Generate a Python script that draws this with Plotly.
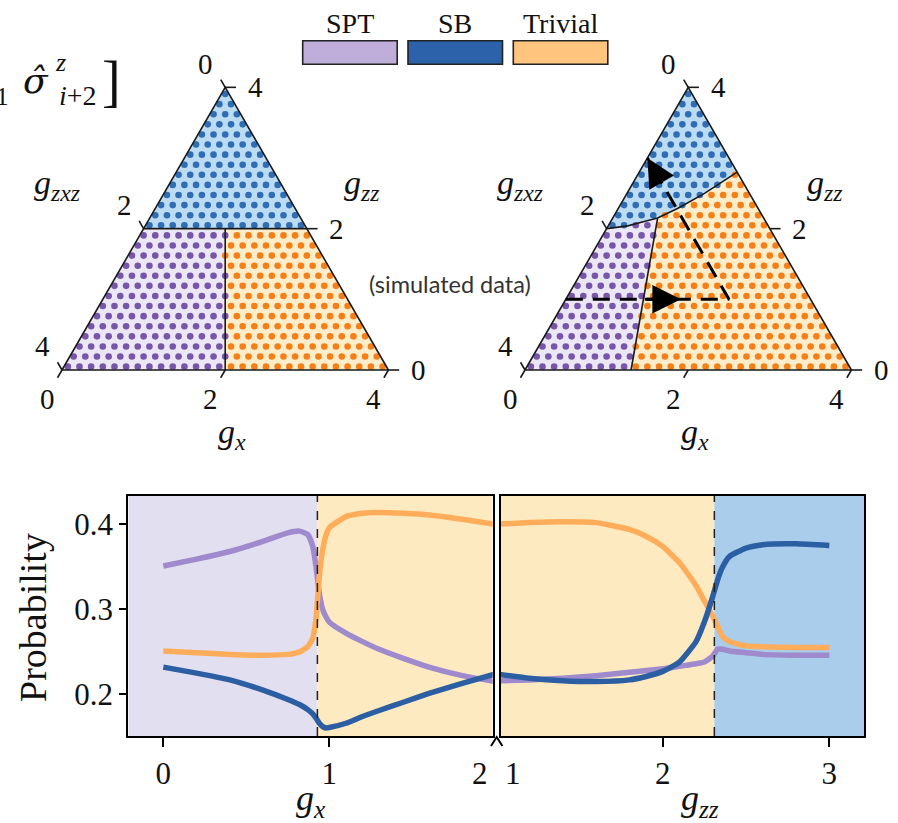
import numpy as np
import plotly.graph_objects as go

W, H = 898, 823
SQ3 = np.sqrt(3) / 2
SERIF = "Liberation Serif, Times New Roman, DejaVu Serif, serif"

# ---------------------------------------------------------------- colours
SPT_FILL, SB_FILL, TRIV_FILL = "#ece7f5", "#bcdcf4", "#feedcb"
SPT_DOT, SB_DOT, TRIV_DOT = "#7755a9", "#2f6db4", "#f47f16"
SPT_LINE, SB_LINE, TRIV_LINE = "#9e8acc", "#2c5ea3", "#ffad5a"
SPT_BG, SB_BG, TRIV_BG = "#e2dff0", "#a9cdeb", "#feeac1"

# ---------------------------------------------------------------- data
phase_names = ["SPT", "SB", "Trivial"]
phase_colors = ["#bfaed9", "#2b62a9", "#ffc57f"]

g_total = 4.0          # g_x + g_zxz + g_zz
n_grid = 28            # sampling lattice of the phase diagram
tri_ticks = [0, 2, 4]

# exact phase diagram: SB above g_zz = 2, SPT where g_zxz > g_x
exact_sb_gzz = 2.0

# learned phase diagram boundaries
learned_sb_gx = [0.0, 0.24, 0.41, 0.55, 0.73, 0.95, 1.2]
learned_sb_gzz = [2.0, 2.04, 2.10, 2.15, 2.29, 2.50, 2.8]
learned_spt_gx = [1.30, 0.55]
learned_spt_gzz = [0.0, 2.15]

# path through the phase diagram: g_zz = 1 then g_zxz = 1
path_gx = [0.0, 2.0, 0.0]
path_gzz = [1.0, 1.0, 3.0]

# probabilities along the first leg (g_zz = 1)
gx_vals = [0, 0.2, 0.4, 0.6, 0.75, 0.82, 0.87, 0.9, 0.92, 0.94, 0.96, 0.98,
           1.0, 1.1, 1.2, 1.3, 1.45, 1.6, 1.8, 2.0]
p_spt_1 = [0.351, 0.359, 0.368, 0.380, 0.390, 0.392, 0.388, 0.374, 0.350,
           0.318, 0.300, 0.291, 0.285, 0.272, 0.262, 0.253, 0.242, 0.232, 0.222, 0.215]
p_triv_1 = [0.251, 0.249, 0.247, 0.246, 0.247, 0.250, 0.256, 0.266, 0.290,
            0.340, 0.370, 0.387, 0.396, 0.409, 0.413, 0.414, 0.413, 0.411, 0.406, 0.400]
p_sb_1 = [0.232, 0.225, 0.217, 0.205, 0.194, 0.188, 0.182, 0.177, 0.172,
          0.166, 0.162, 0.1605, 0.161, 0.166, 0.174, 0.181, 0.191, 0.201, 0.213, 0.224]

# probabilities along the second leg (g_zxz = 1)
gzz_vals = [1.0, 1.2, 1.4, 1.6, 1.8, 1.9, 2.0, 2.1, 2.2, 2.25, 2.3, 2.33,
            2.36, 2.4, 2.5, 2.6, 2.8, 3.0]
p_triv_2 = [0.400, 0.402, 0.403, 0.402, 0.394, 0.386, 0.374, 0.355, 0.328,
            0.310, 0.292, 0.280, 0.268, 0.262, 0.257, 0.256, 0.255, 0.255]
p_sb_2 = [0.224, 0.219, 0.216, 0.215, 0.217, 0.221, 0.227, 0.238, 0.262,
          0.285, 0.315, 0.335, 0.350, 0.362, 0.372, 0.376, 0.377, 0.375]
p_spt_2 = [0.216, 0.217, 0.219, 0.222, 0.226, 0.228, 0.230, 0.233, 0.236,
           0.238, 0.245, 0.253, 0.253, 0.251, 0.249, 0.247, 0.246, 0.246]

# transitions seen along the path
trans_gx = 0.928
trans_gzz = 2.31

prob_ticks = [0.2, 0.3, 0.4]


# ---------------------------------------------------------------- helpers
def cart(gx, gzz):
    gx = np.asarray(gx, float)
    gzz = np.asarray(gzz, float)
    return gx + gzz / 2, gzz * SQ3


def P(xp, yp):
    return xp / W, 1 - yp / H


def sfont(size, family=SERIF, color="#111"):
    return dict(family=family, size=size, color=color)


fig = go.Figure()

# lattice of sampled couplings (centroids of the small up-triangles)
h = g_total / n_grid
lat_gx, lat_gzz = [], []
for i in range(n_grid):
    for k in range(n_grid - i):
        lat_gx.append((i + 1 / 3) * h)
        lat_gzz.append((k + 1 / 3) * h)
lat_gx = np.array(lat_gx)
lat_gzz = np.array(lat_gzz)
lat_gzxz = g_total - lat_gx - lat_gzz
lat_u, lat_v = cart(lat_gx, lat_gzz)

# classification on the exact diagram
exact_phase = np.where(lat_gzz > exact_sb_gzz, 1, np.where(lat_gzxz >= lat_gx, 0, 2))

# classification on the learned diagram
cu, cv = cart(learned_sb_gx, learned_sb_gzz)
lu, lv = cart(learned_spt_gx, learned_spt_gzz)
above = (lat_u >= cu[0]) & (lat_u <= cu[-1]) & (lat_v > np.interp(lat_u, cu, cv))
line_u = lu[0] + (lu[1] - lu[0]) * (lat_v - lv[0]) / (lv[1] - lv[0])
learned_phase = np.where(above, 1, np.where(lat_u < line_u, 0, 2))

fills = [SPT_FILL, SB_FILL, TRIV_FILL]
dots = [SPT_DOT, SB_DOT, TRIV_DOT]

A = cart(0, 0)
B = cart(g_total, 0)
C = cart(0, g_total)

# polygons of the exact diagram
ex_l = cart(0, exact_sb_gzz)
ex_r = cart(g_total - exact_sb_gzz, exact_sb_gzz)
ex_b = cart(g_total / 2, 0)
ex_m = cart((g_total - exact_sb_gzz) / 2, exact_sb_gzz)
exact_polys = [
    [A, ex_b, ex_m, ex_l],
    [ex_l, ex_r, C],
    [ex_b, B, ex_r, ex_m],
]

# polygons of the learned diagram
j = learned_sb_gx.index(learned_spt_gx[-1])
curve = list(zip(cu, cv))
bot = (lu[0], lv[0])
learned_polys = [
    [A, bot] + curve[j::-1],
    curve + [C],
    [bot, B] + curve[:j - 1:-1],
]

for axn, polys, phase in [("", exact_polys, exact_phase), ("2", learned_polys, learned_phase)]:
    xa, ya = "x" + axn, "y" + axn
    for p, poly in enumerate(polys):
        xs = [pt[0] for pt in poly] + [poly[0][0]]
        ys = [pt[1] for pt in poly] + [poly[0][1]]
        fig.add_trace(go.Scatter(x=xs, y=ys, mode="lines", fill="toself",
                                 fillcolor=fills[p], line=dict(width=0),
                                 hoverinfo="skip", xaxis=xa, yaxis=ya))
    for p in range(3):
        m = phase == p
        fig.add_trace(go.Scatter(x=lat_u[m], y=lat_v[m], mode="markers",
                                 marker=dict(size=6.6, color=dots[p]),
                                 hoverinfo="skip", xaxis=xa, yaxis=ya))

# phase boundaries
fig.add_trace(go.Scatter(x=[ex_l[0], ex_r[0], None, ex_b[0], ex_m[0]],
                         y=[ex_l[1], ex_r[1], None, ex_b[1], ex_m[1]],
                         mode="lines", line=dict(color="#1a1a1a", width=1.6),
                         xaxis="x", yaxis="y"))
fig.add_trace(go.Scatter(x=list(cu) + [None] + list(lu), y=list(cv) + [None] + list(lv),
                         mode="lines", line=dict(color="#1a1a1a", width=1.6),
                         xaxis="x2", yaxis="y2"))

# triangle frame, ticks and tick labels
ann = []


def dtxt(x, y, xa, ya, text, size):
    ann.append(dict(x=x, y=y, xref=xa, yref=ya, text=text, showarrow=False,
                    xanchor="center", yanchor="middle", font=sfont(size)))


for axn in ["", "2"]:
    xa, ya = "x" + axn, "y" + axn
    fig.add_trace(go.Scatter(x=[A[0], B[0], C[0], A[0]], y=[A[1], B[1], C[1], A[1]],
                             mode="lines", line=dict(color="#1a1a1a", width=1.6),
                             xaxis=xa, yaxis=ya))
    tx, ty = [], []
    L = 0.11
    for t in tri_ticks:
        # bottom axis: g_x
        bu, bv = cart(t, 0)
        tx += [bu, bu - 0.5 * L, None]
        ty += [bv, bv - SQ3 * L, None]
        dtxt(bu - 0.18, bv - 0.35, xa, ya, str(t), 29)
        # left axis: g_zxz
        lu_, lv_ = cart(0, g_total - t)
        tx += [lu_, lu_ - 0.5 * L, None]
        ty += [lv_, lv_ + SQ3 * L, None]
        dtxt(lu_ - 0.24, lv_ + 0.29, xa, ya, str(t), 29)
        # right axis: g_zz
        ru, rv = cart(g_total - t, t)
        tx += [ru, ru + 1.2 * L, None]
        ty += [rv, rv, None]
        dtxt(ru + 0.37, rv, xa, ya, str(t), 29)
    fig.add_trace(go.Scatter(x=tx, y=ty, mode="lines",
                             line=dict(color="#1a1a1a", width=1.6),
                             xaxis=xa, yaxis=ya))
    dtxt(-0.06, 2.27, xa, ya, "<i>g</i><sub><i>zxz</i></sub>", 34)
    dtxt(3.68, 2.27, xa, ya, "<i>g</i><sub><i>zz</i></sub>", 34)
    dtxt(2.08, -0.78, xa, ya, "<i>g</i><sub><i>x</i></sub>", 34)

# path through the learned diagram
pu, pv = cart(path_gx, path_gzz)
fig.add_trace(go.Scatter(x=pu, y=pv, mode="lines",
                         line=dict(color="black", width=3, dash="17px,10px"),
                         xaxis="x2", yaxis="y2"))
h1u, h1v = cart(1.41, path_gzz[0])
t1u, t1v = cart(0.95, path_gzz[0])
h2u, h2v = cart(path_gx[2], path_gzz[2])
t2u, t2v = cart(0.32, 2.68)
for hu, hv, tu, tv in [(h1u, h1v, t1u, t1v), (h2u, h2v, t2u, t2v)]:
    ann.append(dict(x=hu, y=hv, ax=tu, ay=tv, xref="x2", yref="y2", axref="x2", ayref="y2",
                    text="", showarrow=True, arrowhead=2, arrowsize=1.9, arrowwidth=3,
                    arrowcolor="black", standoff=0, font=sfont(10)))

# probability curves
for xs, ys, col, xa, ya in [
    (gx_vals, p_spt_1, SPT_LINE, "x3", "y3"),
    (gx_vals, p_triv_1, TRIV_LINE, "x3", "y3"),
    (gx_vals, p_sb_1, SB_LINE, "x3", "y3"),
    (gzz_vals, p_spt_2, SPT_LINE, "x4", "y4"),
    (gzz_vals, p_triv_2, TRIV_LINE, "x4", "y4"),
    (gzz_vals, p_sb_2, SB_LINE, "x4", "y4"),
]:
    fig.add_trace(go.Scatter(x=xs, y=ys, mode="lines",
                             line=dict(color=col, width=5.5, shape="spline", smoothing=0.5),
                             xaxis=xa, yaxis=ya))

# axis geometry (pixel-matched)
tri_u_px = 81.6
tri_left_x0, tri_right_x0, tri_base_y = 62.0, 525.0, 370.0
split_x, top_h = 449.0, 470.0

bl_x0, bl_x1 = 128.3, 492.7
br_x0, br_x1 = 500.7, 864.0
b_y0, b_y1 = 496.0, 736.0
x3_range = [-0.211, 1.984]
x4_range = [1.028, 3.208]
y_range = [0.151, 0.4333]

hidden = dict(visible=False, fixedrange=True)
frame = dict(showline=True, mirror=True, linecolor="black", linewidth=2,
             showgrid=False, zeroline=False, fixedrange=True)
tickf = sfont(31)

fig.update_layout(
    width=W, height=H, margin=dict(l=0, r=0, t=0, b=0),
    font=sfont(20),
    paper_bgcolor="white", plot_bgcolor="rgba(0,0,0,0)", showlegend=False,
    xaxis=dict(domain=[0, split_x / W],
               range=[-tri_left_x0 / tri_u_px, (split_x - tri_left_x0) / tri_u_px], **hidden),
    yaxis=dict(domain=[1 - top_h / H, 1],
               range=[(tri_base_y - top_h) / tri_u_px, tri_base_y / tri_u_px], **hidden),
    xaxis2=dict(domain=[split_x / W, 1],
                range=[(split_x - tri_right_x0) / tri_u_px, (W - tri_right_x0) / tri_u_px], **hidden),
    yaxis2=dict(domain=[1 - top_h / H, 1],
                range=[(tri_base_y - top_h) / tri_u_px, tri_base_y / tri_u_px], **hidden),
    xaxis3=dict(domain=[bl_x0 / W, bl_x1 / W], range=x3_range, anchor="y3",
                tickvals=[0, 1], ticktext=["0", "1"], ticks="outside", ticklen=9,
                tickwidth=2, tickcolor="black", tickfont=tickf, **frame),
    yaxis3=dict(domain=[1 - b_y1 / H, 1 - b_y0 / H], range=y_range, anchor="x3",
                tickvals=prob_ticks, ticktext=[f"{v:.1f}" for v in prob_ticks],
                ticks="outside", ticklen=7, tickwidth=2, tickcolor="black",
                tickfont=tickf, **frame),
    xaxis4=dict(domain=[br_x0 / W, br_x1 / W], range=x4_range, anchor="y4",
                tickvals=[2, 3], ticktext=["2", "3"], ticks="outside", ticklen=9,
                tickwidth=2, tickcolor="black", tickfont=tickf, **frame),
    yaxis4=dict(domain=[1 - b_y1 / H, 1 - b_y0 / H], range=y_range, anchor="x4",
                showticklabels=False, ticks="", **frame),
)

# phase backgrounds along the path
shapes = []
for x0, x1, col, xr in [
    (x3_range[0], trans_gx, SPT_BG, "x3"),
    (trans_gx, x3_range[1], TRIV_BG, "x3"),
    (x4_range[0], trans_gzz, TRIV_BG, "x4"),
    (trans_gzz, x4_range[1], SB_BG, "x4"),
]:
    yr = "y3" if xr == "x3" else "y4"
    shapes.append(dict(type="rect", xref=xr, yref=yr + " domain", x0=x0, x1=x1, y0=0, y1=1,
                       fillcolor=col, line=dict(width=0), layer="below"))
for x, xr in [(trans_gx, "x3"), (trans_gzz, "x4")]:
    yr = "y3" if xr == "x3" else "y4"
    shapes.append(dict(type="line", xref=xr, yref=yr + " domain", x0=x, x1=x, y0=0, y1=1,
                       line=dict(color="#222", width=1.5, dash="dash")))

# axis break mark
a0, a1, a2 = P(491.0, 746.0), P(496.7, 737.0), P(502.4, 746.0)
shapes.append(dict(type="path", xref="paper", yref="paper",
                   path=f"M{a0[0]},{a0[1]} L{a1[0]},{a1[1]} L{a2[0]},{a2[1]}",
                   line=dict(color="black", width=2)))


def txt(xp, yp, text, size, family=SERIF, color="#111", xanchor="center", **kw):
    x, y = P(xp, yp)
    d = dict(x=x, y=y, xref="paper", yref="paper", text=text, showarrow=False,
             xanchor=xanchor, yanchor="middle", font=sfont(size, family, color))
    d.update(kw)
    ann.append(d)


# legend boxes
for i, (name, col) in enumerate(zip(phase_names, phase_colors)):
    x0p = 302.7 + i * 105.3
    p0, p1 = P(x0p, 40.7), P(x0p + 94.5, 64.3)
    shapes.append(dict(type="rect", xref="paper", yref="paper",
                       x0=p0[0], y0=p1[1], x1=p1[0], y1=p0[1],
                       fillcolor=col, line=dict(color="#222", width=1.6)))
    txt(x0p + 47.2, 23, name, 28)

fig.update_layout(shapes=shapes)

# bottom axis labels
txt(480, 773, "2", 31)
txt(513, 773, "1", 31)
txt(310, 800, "<i>g</i><sub><i>x</i></sub>", 36)
txt(700, 800, "<i>g</i><sub><i>zz</i></sub>", 36)
txt(33, 618, "Probability", 38, textangle=-90)

# note between the triangles
txt(450, 284, "(simulated data)", 23.5, family="Lato, Open Sans, sans-serif", color="#333")

# operator fragment at the upper left
txt(11, 97, "+1", 25, xanchor="right")
txt(36, 80, "<i>σ̂</i>", 36, family="DejaVu Serif, serif")
txt(60, 62, "<i>z</i>", 26)
txt(78, 96, "<i>i</i>+2", 28)
txt(111, 81, "]", 56)

fig.update_layout(annotations=ann)
fig.write_html("out.html")
